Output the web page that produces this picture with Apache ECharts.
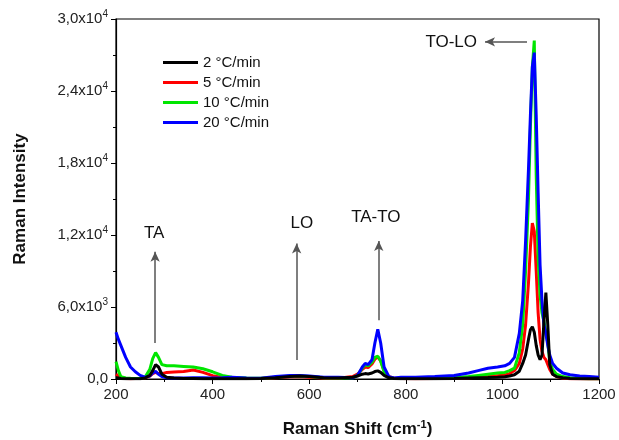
<!DOCTYPE html>
<html>
<head>
<meta charset="utf-8">
<script src="https://cdn.jsdelivr.net/npm/echarts@6/dist/echarts.min.js"></script>
<style>
html, body { margin: 0; padding: 0; background: #fff; }
#main { width: 619px; height: 440px; }
</style>
</head>
<body>
<div id="main"></div>
<script>
var ramanShift = [200, 205, 210, 220, 230, 240, 250, 260, 270, 276,
	282, 288, 295, 305, 320, 340, 360, 380, 400, 420,
	440, 470, 500, 530, 560, 580, 600, 630, 660, 690,
	700, 710, 716, 722, 730, 736, 742, 748, 755, 765,
	775, 790, 820, 860, 900, 930, 950, 970, 990, 1005,
	1015, 1025, 1035, 1042, 1048, 1054, 1058, 1062, 1066, 1070,
	1074, 1078, 1082, 1086, 1090, 1094, 1098, 1104, 1112, 1125,
	1140, 1160, 1180, 1200];

var rate2 = [100, 80, 50, 30, 20, 20, 30, 80, 300, 700,
	1200, 1000, 400, 150, 80, 50, 40, 30, 30, 20,
	20, 30, 50, 100, 200, 250, 200, 100, 80, 150,
	250, 400, 450, 420, 500, 620, 680, 550, 300, 100,
	40, 20, 20, 30, 50, 80, 100, 120, 150, 180,
	250, 350, 650, 1300, 2000, 3300, 4100, 4350, 3900, 2800,
	2000, 1600, 2000, 4800, 7200, 4500, 1200, 400, 200, 100,
	50, 30, 20, 20];

var rate5 = [400, 250, 100, 50, 30, 40, 60, 100, 250, 450,
	550, 450, 450, 550, 580, 620, 750, 550, 280, 120,
	60, 40, 40, 100, 180, 200, 150, 80, 60, 200,
	400, 800, 1000, 950, 1250, 1650, 1850, 1500, 700, 200,
	80, 40, 30, 40, 60, 100, 150, 200, 280, 330,
	450, 700, 1300, 2500, 4500, 8000, 11000, 13000, 12300, 9000,
	5500, 3300, 2300, 1800, 1600, 1200, 800, 400, 200, 80,
	30, 20, 10, 10];

var rate10 = [1450, 700, 200, 80, 60, 50, 60, 150, 800, 1700,
	2200, 1800, 1200, 1100, 1100, 1050, 1000, 850, 600, 300,
	150, 80, 60, 120, 250, 250, 200, 100, 80, 100,
	300, 900, 1200, 1100, 1400, 1800, 1900, 1500, 600, 150,
	60, 40, 40, 60, 100, 200, 300, 400, 500, 550,
	700, 900, 2200, 4500, 9000, 15000, 21000, 26000, 28200, 17000,
	10000, 7000, 5500, 4800, 4900, 3000, 1500, 800, 400, 200,
	100, 50, 30, 30];

var rate20 = [3900, 3300, 2800, 1800, 1000, 600, 300, 150, 250, 500,
	650, 400, 200, 100, 80, 80, 100, 100, 80, 100,
	150, 80, 60, 200, 300, 300, 250, 150, 150, 100,
	300, 1000, 1300, 1200, 1600, 3000, 4150, 3000, 1000, 200,
	80, 150, 150, 200, 300, 500, 700, 900, 1000, 1100,
	1300, 1800, 3800, 6500, 11500, 17500, 22000, 26000, 27200, 22000,
	15500, 9500, 6500, 4500, 3800, 2800, 2000, 1300, 900, 500,
	350, 250, 200, 150];

var seriesNames = ['2 °C/min', '5 °C/min', '10 °C/min', '20 °C/min'];
var seriesColors = ['#000000', '#ff0000', '#00e600', '#0000ff'];

// peak labels and arrows (data coordinates)
var peakLabels = [
	{ name: 'TA', coord: [279, 12170] },
	{ name: 'LO', coord: [585, 13000] },
	{ name: 'TA-TO', coord: [738, 13500] },
	{ name: 'TO-LO', coord: [894, 28080] }
];
var peakArrows = [
	[[281, 3000], [281, 10600]],
	[[574, 1580], [574, 11300]],
	[[744, 4900], [744, 11500]],
	[[1051, 28100], [964, 28100]]
];

function pairs(ys) {
	return ramanShift.map(function(x, i) { return [x, ys[i]]; });
}

function yLabel(v) {
	if (v === 0) return '0,0';
	var e = Math.floor(Math.log10(v) + 1e-9);
	var m = (v / Math.pow(10, e)).toFixed(1).replace('.', ',');
	return '{a|' + m + 'x10}{s|' + e + '}';
}

var myChart = echarts.init(document.getElementById('main'));
var font = 'Liberation Sans, Arial, sans-serif';

var series = [rate2, rate5, rate10, rate20].map(function(d, i) {
	return {
		name: seriesNames[i],
		type: 'line',
		data: pairs(d),
		symbol: 'none',
		smooth: false,
		z: i === 0 ? 5 : 2 + i * 0.1,
		lineStyle: { width: 3, color: seriesColors[i] },
		itemStyle: { color: seriesColors[i] }
	};
});

series.push({
	name: 'annot',
	type: 'line',
	data: [],
	silent: true,
	markLine: {
		silent: true,
		symbol: ['none', 'arrow'],
		symbolSize: [7, 10],
		label: { show: false },
		lineStyle: { color: '#555', width: 1.5, type: 'solid' },
		data: peakArrows.map(function(a) {
			return [{ coord: a[0] }, { coord: a[1] }];
		})
	},
	markPoint: {
		silent: true,
		symbol: 'circle',
		symbolSize: 1,
		itemStyle: { color: 'rgba(0,0,0,0)' },
		label: {
			show: true,
			position: 'inside',
			formatter: '{b}',
			color: '#111',
			fontSize: 17,
			fontFamily: font
		},
		data: peakLabels
	}
});

var option = {
	animation: false,
	backgroundColor: '#fff',
	grid: {
		left: 116, right: 20, top: 19, bottom: 61,
		outerBoundsMode: 'none',
		containLabel: false,
		show: true, borderColor: '#000', borderWidth: 1.2
	},
	legend: {
		data: seriesNames,
		orient: 'vertical',
		left: 158,
		top: 50,
		icon: 'rect',
		itemWidth: 35,
		itemHeight: 3,
		itemGap: 5,
		textStyle: { fontSize: 15, lineHeight: 15, color: '#111', fontFamily: font }
	},
	xAxis: {
		type: 'value',
		min: 200,
		max: 1200,
		interval: 200,
		name: '{n|Raman Shift (cm}{s|-1}{n|)}',
		nameLocation: 'middle',
		nameGap: 40,
		nameTextStyle: {
			rich: {
				n: { fontSize: 17, fontWeight: 'bold', color: '#111', fontFamily: font },
				s: { fontSize: 11, fontWeight: 'bold', color: '#111', fontFamily: font, padding: [0, 0, 9, 0] }
			}
		},
		axisLine: { onZero: false, lineStyle: { color: '#000', width: 1.2 } },
		axisTick: { inside: false, length: 5, lineStyle: { color: '#000' } },
		minorTick: { show: true, splitNumber: 2, length: 3, lineStyle: { color: '#000' } },
		splitLine: { show: false },
		axisLabel: {
			fontSize: 15, color: '#222', margin: 8, fontFamily: font,
			formatter: function(v) { return String(v); }
		}
	},
	yAxis: {
		type: 'value',
		min: 0,
		max: 30000,
		interval: 6000,
		name: 'Raman Intensity',
		nameLocation: 'middle',
		nameGap: 87,
		nameTextStyle: { fontSize: 17, fontWeight: 'bold', color: '#111', fontFamily: font },
		axisLine: { onZero: false, lineStyle: { color: '#000', width: 1.2 } },
		axisTick: { inside: false, length: 5, lineStyle: { color: '#000' } },
		minorTick: { show: true, splitNumber: 2, length: 3, lineStyle: { color: '#000' } },
		splitLine: { show: false },
		axisLabel: {
			fontSize: 15, color: '#222', margin: 8, fontFamily: font,
			formatter: yLabel,
			rich: {
				a: { fontSize: 15, color: '#222', fontFamily: font },
				s: { fontSize: 10, color: '#222', fontFamily: font, padding: [0, 0, 9, 0] }
			}
		}
	},
	series: series
};

myChart.setOption(option);
</script>
</body>
</html>
